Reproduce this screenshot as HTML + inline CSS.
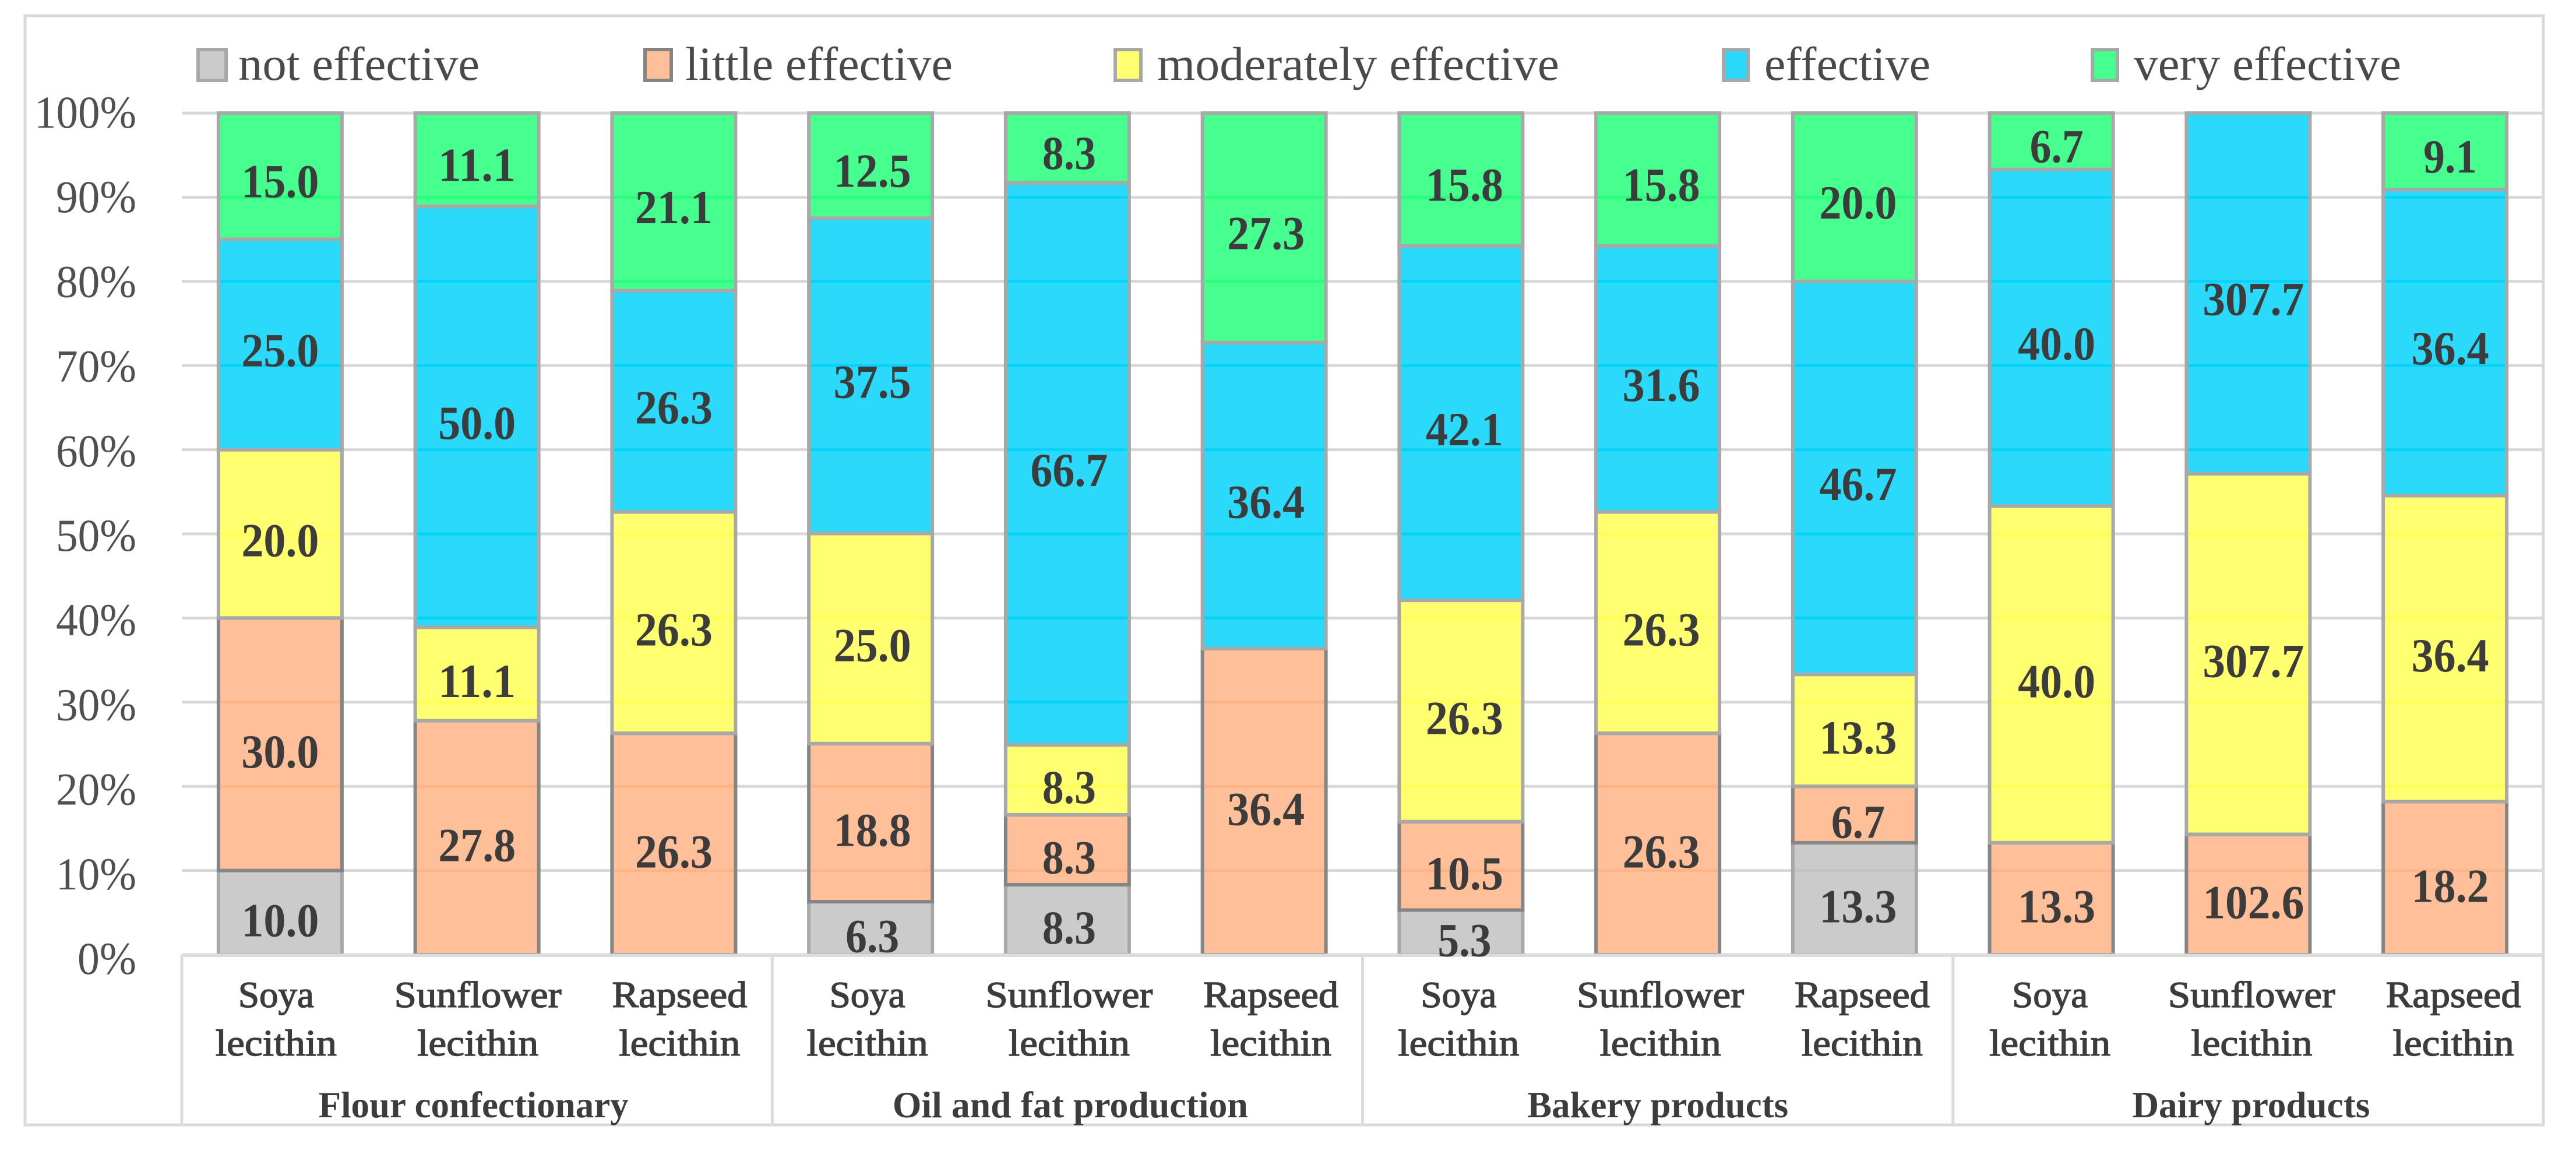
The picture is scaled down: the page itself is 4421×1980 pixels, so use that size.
<!DOCTYPE html>
<html lang="en">
<head>
<meta charset="utf-8">
<title>Effectiveness of lecithins by product group</title>
<style>
  html, body { margin: 0; padding: 0; background: #fff; }
  body { width: 4421px; height: 1980px; overflow: hidden; }
  svg { display: block; }
  text { font-family: "Liberation Serif", serif; }
</style>
</head>
<body>
<svg id="chart" xmlns="http://www.w3.org/2000/svg" width="4421" height="1980" viewBox="0 0 4421 1980">
  <rect x="0" y="0" width="4421" height="1980" fill="#ffffff"/>
  <rect x="43" y="27" width="4322" height="1903" fill="none" stroke="#d9d9d9" stroke-width="5"/>
</svg>
<script>
// ---- chart data ----
const groupNames = ['Flour confectionary', 'Oil and fat production', 'Bakery products', 'Dairy products'];
const lecithinNames = ['Soya', 'Sunflower', 'Rapseed'];
const seriesNames = ['not effective', 'little effective', 'moderately effective', 'effective', 'very effective'];
const tickValues = [0, 10, 20, 30, 40, 50, 60, 70, 80, 90, 100];
const tickLabels = ['0%', '10%', '20%', '30%', '40%', '50%', '60%', '70%', '80%', '90%', '100%'];
const notEffective = [10.0, 0, 0, 6.3, 8.3, 0, 5.3, 0, 13.3, 0, 0, 0];
const littleEffective = [30.0, 27.8, 26.3, 18.8, 8.3, 36.4, 10.5, 26.3, 6.7, 13.3, 102.6, 18.2];
const moderatelyEffective = [20.0, 11.1, 26.3, 25.0, 8.3, 0, 26.3, 26.3, 13.3, 40.0, 307.7, 36.4];
const effectiveValues = [25.0, 50.0, 26.3, 37.5, 66.7, 36.4, 42.1, 31.6, 46.7, 40.0, 307.7, 36.4];
const veryEffective = [15.0, 11.1, 21.1, 12.5, 8.3, 27.3, 15.8, 15.8, 20.0, 6.7, 0, 9.1];

// ---- layout and styling ----
const seriesValues = [notEffective, littleEffective, moderatelyEffective, effectiveValues, veryEffective];
const fills = ['#cbcbcb', '#ffbf99', '#ffff70', '#2bd9fb', '#47ff8f'];
const strokes = ['#a8a8a8', '#858585', '#a8a8a8', '#a8a8a8', '#a8a8a8'];
const PLOT_LEFT = 312, PLOT_RIGHT = 4365, Y_TOP = 194, Y_BOTTOM = 1638;
const SLOT = (PLOT_RIGHT - PLOT_LEFT) / 12, BAR_WIDTH = 212, INK = '#3c3c3c';
const svg = document.getElementById('chart');

function yScale(pct) { return Y_BOTTOM - (Y_BOTTOM - Y_TOP) * pct / 100; }
function xScale(index) { return PLOT_LEFT + SLOT * (index + 0.5); }
function make(tag, attrs, content) {
  const el = document.createElementNS('http://www.w3.org/2000/svg', tag);
  Object.keys(attrs).forEach(function (k) { el.setAttribute(k, attrs[k]); });
  if (content !== undefined) el.textContent = content;
  svg.appendChild(el);
  return el;
}
function slug(s) { return s.toLowerCase().replace(/[^a-z0-9]+/g, '-'); }
function numberWidth(str) {
  const digits = str.replace(/[^0-9]/g, '').length;
  return digits * 41 + 10;
}
function tickWidth(str) { return (str.length - 1) * 37 + 64; }
function lecithinWidth(word) {
  if (word === 'Soya') return 130;
  if (word === 'Sunflower') return 287;
  if (word === 'Rapseed') return 232;
  return 208;
}
function groupLabelWidth(g) { return g === 0 ? 532 : g === 1 ? 610 : g === 2 ? 448 : 408; }
function groupLabelShift(g) { return g === 0 ? -6 : g === 1 ? 5 : g === 2 ? 0 : 5; }

// gridlines behind the bars
tickValues.forEach(function (t) {
  const line = make('line', { x1: PLOT_LEFT, x2: PLOT_RIGHT, y1: yScale(t), y2: yScale(t), stroke: '#dedede', 'stroke-width': 5 });
  
  
});

// compute stacks from the values
const stacks = [];
notEffective.forEach(function (_, i) {
  let total = 0;
  seriesValues.forEach(function (s) { total += s[i]; });
  let acc = 0;
  const segs = [];
  seriesValues.forEach(function (s, k) {
    if (s[i] > 0) {
      const start = acc / total * 100;
      acc += s[i];
      segs.push({ series: k, value: s[i], start: start, end: acc / total * 100 });
    }
  });
  stacks.push(segs);
});

// bar fills
stacks.forEach(function (segs, i) {
  segs.forEach(function (seg) {
    const r = make('rect', { x: xScale(i) - BAR_WIDTH / 2, y: yScale(seg.end), width: BAR_WIDTH, height: yScale(seg.start) - yScale(seg.end), fill: fills[seg.series] });
    
    
  });
});

// gridlines tinting through the bars
tickValues.forEach(function (t) {
  const tint = make('line', { x1: PLOT_LEFT, x2: PLOT_RIGHT, y1: yScale(t), y2: yScale(t), stroke: '#d9d9d9', 'stroke-width': 5, style: 'mix-blend-mode:color-burn' });
  
  
});

// bar outlines, stacked bottom-up
stacks.forEach(function (segs, i) {
  segs.forEach(function (seg) {
    const o = make('rect', { x: xScale(i) - BAR_WIDTH / 2, y: yScale(seg.end), width: BAR_WIDTH, height: yScale(seg.start) - yScale(seg.end), fill: 'none', stroke: strokes[seg.series], 'stroke-width': 6 });
    
    
  });
});

// category axis and group dividers
const axisLine = make('line', { x1: PLOT_LEFT, x2: PLOT_RIGHT, y1: Y_BOTTOM + 1, y2: Y_BOTTOM + 1, stroke: '#dcdcdc', 'stroke-width': 6 });


[0, 1, 2, 3].forEach(function (g) {
  const d = make('line', { x1: PLOT_LEFT + SLOT * 3 * g, x2: PLOT_LEFT + SLOT * 3 * g, y1: Y_BOTTOM, y2: 1930, stroke: '#dcdcdc', 'stroke-width': 5 });
  
  
});

// value labels
stacks.forEach(function (segs, i) {
  const g = Math.floor(i / 3);
  segs.forEach(function (seg) {
    const mid = (seg.start + seg.end) / 2;
    const str = seg.value.toFixed(1);
    const t = make('text', { x: xScale(i) + g * 3, y: yScale(mid) + 36 + (100 - mid) * 0.05, 'text-anchor': 'middle', 'font-size': 82, 'font-weight': 'bold', fill: INK, textLength: numberWidth(str), lengthAdjust: 'spacingAndGlyphs' }, str);
    
    
  });
});

// y axis tick labels
tickValues.forEach(function (v, n) {
  const t = make('text', { x: 234, y: 219 + (100 - v) * 14.52, 'text-anchor': 'end', 'font-size': 78, fill: '#505050', textLength: tickWidth(tickLabels[n]), lengthAdjust: 'spacingAndGlyphs' }, tickLabels[n]);
  
  
});

// category labels
notEffective.forEach(function (_, i) {
  const g = Math.floor(i / 3), s = i % 3;
  const cx = xScale(i) - 7 + 8.5 * s + 1.5 * g;
  const name = lecithinNames[s];
  const a = make('text', { x: cx, y: 1728, 'text-anchor': 'middle', 'font-size': 64, fill: INK, stroke: INK, 'stroke-width': 1.4, textLength: lecithinWidth(name), lengthAdjust: 'spacingAndGlyphs' }, name);
  
  
  const b = make('text', { x: cx, y: 1811, 'text-anchor': 'middle', 'font-size': 64, fill: INK, stroke: INK, 'stroke-width': 1.4, textLength: lecithinWidth('lecithin'), lengthAdjust: 'spacingAndGlyphs' }, 'lecithin');
  
  
});

// group labels
groupNames.forEach(function (name, g) {
  const t = make('text', { x: PLOT_LEFT + SLOT * (3 * g + 1.5) + groupLabelShift(g), y: 1917, 'text-anchor': 'middle', 'font-size': 64, 'font-weight': 'bold', fill: INK, textLength: groupLabelWidth(g), lengthAdjust: 'spacingAndGlyphs' }, name);
  
  
});

// legend
function legendSwatchX(k) { return k === 0 ? 340 : k === 1 ? 1107 : k === 2 ? 1914 : k === 3 ? 2958 : 3591; }
function legendSwatchW(k) { return k === 0 ? 48 : k === 1 ? 45 : k === 2 ? 44 : k === 3 ? 42 : 43; }
function legendTextX(k) { return k === 0 ? 409 : k === 1 ? 1176 : k === 2 ? 1986 : k === 3 ? 3028 : 3662; }
function legendTextW(k) { return k === 0 ? 414 : k === 1 ? 459 : k === 2 ? 690 : k === 3 ? 285 : 459; }
seriesNames.forEach(function (name, k) {
  const sw = make('rect', { x: legendSwatchX(k), y: 85, width: legendSwatchW(k), height: 53, fill: fills[k], stroke: strokes[k], 'stroke-width': 6 });
  
  
  const t = make('text', { x: legendTextX(k), y: 137, 'font-size': 82, fill: '#4a4a4a', textLength: legendTextW(k), lengthAdjust: 'spacingAndGlyphs' }, name);
  
  
});
</script>
</body>
</html>
